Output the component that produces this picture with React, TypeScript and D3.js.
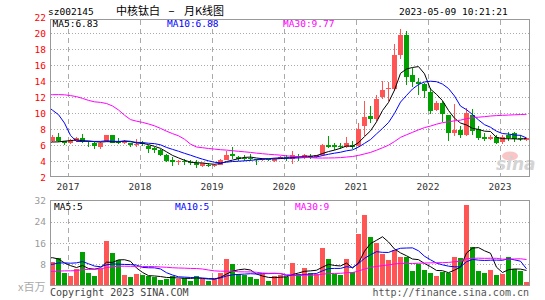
import React from "react";
import * as d3 from "d3";

// ---- data (monthly, starting 2016-10) ----
const firstMonth = new Date(2016, 9, 1);

const open = [
  6.48, 6.97, 6.5, 6.19, 6.45, 6.85, 6.45, 6.3, 5.8, 6.45,
  7.2, 6.4, 6.3, 6.3, 6.05, 6.25, 5.85, 5.6, 5.35, 4.8,
  4.1, 3.85, 4.0, 3.9, 3.8, 3.4, 3.55, 3.4, 3.55, 4.15,
  4.9, 4.45, 4.4, 4.4, 4.3, 4.2, 4.28, 4.05, 4.3, 4.5,
  4.2, 4.65, 4.4, 4.65, 4.55, 4.7, 5.95, 6.0, 5.85, 5.8,
  6.05, 5.85, 8.35, 9.6, 9.2, 12.0, 12.95, 13.0, 17.2, 19.8,
  14.8, 13.9, 13.65, 12.6, 10.35, 11.25, 9.7, 7.45, 7.85, 7.2,
  9.8, 8.0, 6.95, 6.7, 7.0, 6.35, 7.2, 7.45, 6.85, 6.65,
];
const high = [
  7.2, 7.44, 6.55, 6.8, 7.0, 7.4, 6.5, 6.4, 6.35, 7.25,
  7.25, 6.9, 6.65, 6.3, 6.8, 6.45, 6.0, 5.75, 5.5, 4.85,
  4.5, 4.1, 4.25, 4.1, 4.1, 3.8, 3.75, 3.65, 4.2, 5.3,
  5.7, 4.6, 4.75, 4.9, 4.3, 4.35, 4.3, 4.35, 4.6, 4.8,
  5.2, 4.9, 4.85, 4.9, 4.8, 6.1, 7.1, 6.3, 6.2, 7.0,
  6.5, 8.7, 11.5, 10.9, 12.3, 14.0, 13.9, 18.6, 20.5, 20.2,
  15.6, 14.4, 13.7, 13.1, 11.5, 11.5, 9.8, 11.15, 8.35, 10.6,
  10.45, 8.35, 7.45, 7.2, 7.2, 7.2, 7.6, 7.65, 7.2, 6.9,
];
const low = [
  6.4, 6.35, 6.0, 6.1, 6.4, 6.3, 5.8, 5.5, 5.55, 6.35,
  6.2, 6.1, 6.1, 5.8, 5.75, 5.9, 5.0, 5.0, 4.6, 3.9,
  3.35, 3.45, 3.5, 3.45, 3.15, 3.3, 3.3, 3.3, 3.5, 4.1,
  4.3, 4.05, 4.05, 4.05, 3.55, 4.05, 4.05, 3.85, 4.2, 4.05,
  3.6, 4.0, 4.2, 4.3, 4.4, 4.6, 5.6, 5.4, 5.5, 5.65,
  5.5, 5.8, 7.1, 8.8, 9.0, 11.7, 11.5, 12.7, 16.7, 13.5,
  13.3, 12.2, 11.9, 9.9, 10.2, 8.9, 6.5, 7.1, 6.9, 7.1,
  7.2, 6.6, 6.5, 6.6, 6.1, 6.1, 6.5, 6.4, 6.45, 6.45,
];
const close = [
  6.97, 6.44, 6.3, 6.6, 6.9, 6.4, 6.35, 5.85, 6.3, 7.2,
  6.3, 6.3, 6.45, 6.05, 6.15, 6.1, 5.5, 5.35, 4.8, 4.0,
  3.85, 3.95, 3.85, 3.7, 3.55, 3.75, 3.4, 3.55, 4.15, 4.8,
  4.65, 4.3, 4.35, 4.35, 4.2, 4.25, 4.22, 4.3, 4.55, 4.4,
  4.7, 4.55, 4.8, 4.55, 4.75, 6.0, 5.8, 5.7, 5.7, 6.2,
  5.8, 8.05, 9.5, 9.3, 11.8, 12.9, 13.1, 17.2, 19.8, 14.5,
  13.85, 13.65, 12.7, 10.2, 11.25, 9.9, 7.55, 7.85, 7.2, 10.0,
  7.8, 6.9, 6.75, 7.0, 6.3, 7.0, 6.85, 6.7, 6.75, 6.85,
];
// volume, x 1,000,000
const volume = [
  8.9, 10.4, 4.9, 3.6, 6.15, 12.7, 4.75, 3.6, 6.15, 16.8,
  12.3, 9.5, 3.9, 3.1, 4.3, 3.9, 3.4, 3.3, 2.0, 2.6,
  3.6, 2.6, 2.9, 1.6, 3.6, 2.6, 1.6, 2.6, 4.9, 9.9,
  8.0, 4.2, 4.0, 3.1, 2.4, 4.2, 1.6, 3.5, 3.9, 3.3,
  8.4, 4.5, 6.65, 4.75, 4.5, 14.2, 9.9, 4.4, 3.9, 9.9,
  5.0, 19.4, 26.5, 18.2, 16.2, 11.7, 9.5, 13.3, 10.8, 10.8,
  5.6, 8.3, 6.0, 4.85, 3.65, 5.1, 4.6, 10.8, 10.5, 30.3,
  14.4, 5.5, 4.8, 5.85, 3.95, 4.4, 10.8, 6.2, 5.6, 1.45,
];
// months before the visible window (needed for the moving averages)
const priorCloses = [
  6.5, 6.3, 7.0, 9.5, 10.8, 13.0, 13.85, 11.25, 8.4, 11.4,
  15.6, 21.3, 25.95, 22.55, 12.15, 10.6, 11.5, 12.25, 14.4, 14.5,
  13.0, 12.0, 16.8, 22.0, 14.4, 6.4, 6.35, 5.85, 6.3, 6.4,
];
const priorVolumes = [
  5, 6, 3, 2.5, 4, 2.2, 1.75, 1.5, 2.25, 1.8,
  3.3, 3.5, 3.9, 4.6, 4.3, 5.4, 3.4, 4.8, 6, 6,
  8.9, 5.5, 4.5, 4.8, 4.8, 7.9, 12.9, 12.4, 8.6, 9.7,
];
const priceTicks = [2, 4, 6, 8, 10, 12, 14, 16, 18, 20, 22];
const volumeTicks = [8, 16, 24, 32];
const maPeriods = [5, 10, 30];
const maColors = ["#000000", "#0000FF", "#FF00FF"];
const priceMaLabels = ["MA5:6.83", "MA10:6.88", "MA30:9.77"];
const volumeMaLabels = ["MA5:5", "MA10:5", "MA30:9"];
const titleParts = ["中核钛白", "-", "月K线图"];

const UP = "#FF5555";
const DOWN = "#00A000";
const MONO = "'DejaVu Sans Mono', monospace";
const CJK = "'Noto Sans CJK SC', sans-serif";

const N = close.length;
const months = d3.timeMonth.range(firstMonth, d3.timeMonth.offset(firstMonth, N));
const xPos = d3.scaleLinear().domain([0, N]).range([50, 530]);
const yP = d3.scaleLinear().domain([2, 22]).range([177, 17]);
const yV = d3.scaleLinear().domain([0, 32]).range([285.5, 200.7]);

function movingAverage(values: number[], prior: number[], n: number): [number, number][] {
  const full = prior.concat(values);
  const off = prior.length;
  const out: [number, number][] = [];
  for (let i = -1; i < values.length; i++) {
    const end = off + i;
    out.push([i, d3.mean(full.slice(end - n + 1, end + 1)) as number]);
  }
  return out;
}

const yearTicks = months
  .map((m, i) => ({ m, i }))
  .filter((d) => d.m.getMonth() === 0);
const fmtYear = d3.timeFormat("%Y");

export default function App() {
  const priceLine = d3
    .line<[number, number]>()
    .x((d) => xPos(d[0]) + 2.5)
    .y((d) => yP(d[1]));
  const volLine = d3
    .line<[number, number]>()
    .x((d) => xPos(d[0]) + 2.5)
    .y((d) => yV(d[1]));

  return (
    <svg
      width={545}
      height={300}
      style={{ position: "absolute", left: 0, top: 0, background: "#fff" }}
    >
      <defs>
        <clipPath id="pclip">
          <rect x={51} y={20} width={478} height={156} />
        </clipPath>
        <clipPath id="vclip">
          <rect x={51} y={201} width={478} height={84} />
        </clipPath>
      </defs>

      {/* header */}
      <text x={48} y={15} fontFamily={MONO} fontSize={9.5} fill="#000">sz002145</text>
      <text x={116} y={15} fontFamily={CJK} fontSize={11} fill="#000">{titleParts[0]}</text>
      <text x={168} y={15} fontFamily={CJK} fontSize={11} fill="#000" textLength={7}
        lengthAdjust="spacingAndGlyphs">{titleParts[1]}</text>
      <text x={184} y={15} fontFamily={CJK} fontSize={11} fill="#000">{titleParts[2]}</text>
      <text x={399} y={15} fontFamily={MONO} fontSize={9.5} fill="#000">2023-05-09 10:21:21</text>

      {/* price grid */}
      {priceTicks
        .filter((t) => t > 2 && t < 22)
        .map((t) => (
          <line key={"pg" + t} x1={51} x2={529} y1={Math.round(yP(t)) + 0.5} y2={Math.round(yP(t)) + 0.5}
            stroke="#aaa" strokeDasharray="1,2" />
        ))}
      {yearTicks.map((d) => (
        <line key={"pv" + d.i} x1={xPos(d.i) + 0.5} x2={xPos(d.i) + 0.5} y1={20} y2={176}
          stroke="#aaa" strokeDasharray="5,4" />
      ))}
      {priceTicks.map((t) => (
        <text key={"pl" + t} x={46} y={yP(t) + 3.5} textAnchor="end" fontFamily={MONO}
          fontSize={9.5} fill="#FF0000">{t}</text>
      ))}

      {/* candles */}
      <g clipPath="url(#pclip)">
        {close.map((c, i) => {
          const o = open[i];
          const up = c >= o;
          const col = up ? UP : DOWN;
          const bx = xPos(i);
          const top = Math.round(yP(Math.max(o, c)));
          const bot = Math.round(yP(Math.min(o, c)));
          return (
            <g key={"c" + i}>
              <rect x={bx + 2} width={1} y={Math.round(yP(high[i]))}
                height={Math.max(1, Math.round(yP(low[i])) - Math.round(yP(high[i])))} fill={col} />
              <rect x={bx} width={5} y={top} height={Math.max(1, bot - top)} fill={col} />
            </g>
          );
        })}
        {maPeriods.map((n, k) => (
          <path key={"pm" + n} d={priceLine(movingAverage(close, priorCloses, n)) || ""}
            fill="none" stroke={maColors[k]} strokeWidth={1} />
        ))}
      </g>

      {/* sina watermark */}
      <ellipse cx={510} cy={156} rx={8} ry={4.5} fill="#F6B8B8" opacity={0.8} />
      <text x={496} y={170} fontFamily="'DejaVu Sans', sans-serif" fontSize={17} fontStyle="italic"
        fontWeight="bold" fill="#D4D4D4">sina</text>

      <rect x={50.5} y={19.5} width={479} height={157} fill="none" stroke="#999" />
      {priceMaLabels.map((s, k) => (
        <text key={"pml" + k} x={[52.5, 167, 283][k]} y={27} fontFamily={MONO} fontSize={9.5}
          fill={maColors[k]}>{s}</text>
      ))}

      {/* year labels */}
      {yearTicks.map((d) => (
        <text key={"yl" + d.i} x={xPos(d.i)} y={190} textAnchor="middle" fontFamily={MONO}
          fontSize={9.5} fill="#333">{fmtYear(d.m)}</text>
      ))}

      {/* volume panel */}
      {volumeTicks
        .filter((t) => t < 32)
        .map((t) => (
          <line key={"vg" + t} x1={51} x2={529} y1={Math.round(yV(t)) + 0.5} y2={Math.round(yV(t)) + 0.5}
            stroke="#aaa" strokeDasharray="1,2" />
        ))}
      {yearTicks.map((d) => (
        <line key={"vv" + d.i} x1={xPos(d.i) + 0.5} x2={xPos(d.i) + 0.5} y1={201} y2={285}
          stroke="#aaa" strokeDasharray="5,4" />
      ))}
      {volumeTicks.map((t) => (
        <text key={"vl" + t} x={46} y={yV(t) + 3.5} textAnchor="end" fontFamily={MONO}
          fontSize={9.5} fill="#999">{t}</text>
      ))}
      <text x={18} y={291} fontFamily={CJK} fontSize={11} fill="#aaa">x百万</text>
      <g clipPath="url(#vclip)">
        {volume.map((v, i) => {
          const up = close[i] >= open[i];
          const top = Math.round(yV(v));
          return (
            <rect key={"v" + i} x={xPos(i)} width={5} y={top} height={285 - top}
              fill={up ? UP : DOWN} />
          );
        })}
        {maPeriods.map((n, k) => (
          <path key={"vm" + n} d={volLine(movingAverage(volume, priorVolumes, n)) || ""}
            fill="none" stroke={maColors[k]} strokeWidth={1} />
        ))}
      </g>
      <rect x={50.5} y={200.5} width={479} height={85} fill="none" stroke="#999" />
      {volumeMaLabels.map((s, k) => (
        <text key={"vml" + k} x={[54, 175, 295][k]} y={209.5} fontFamily={MONO} fontSize={9.5}
          fill={maColors[k]}>{s}</text>
      ))}

      {/* footer */}
      <text x={50} y={296} fontFamily={MONO} fontSize={10} fill="#444">Copyright 2023 SINA.COM</text>
      <text x={529} y={296} textAnchor="end" fontFamily={MONO} fontSize={10} fill="#555">
        http://finance.sina.com.cn
      </text>
    </svg>
  );
}
